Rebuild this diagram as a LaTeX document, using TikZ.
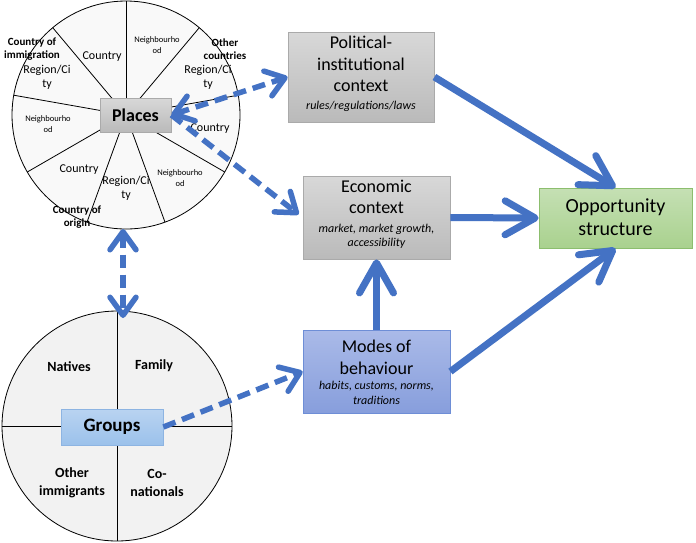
\documentclass[tikz,border=0pt]{standalone}
\usepackage{fontspec}
\setmainfont{Carlito}
\usetikzlibrary{arrows.meta}
\definecolor{ablue}{RGB}{68,114,196}
\definecolor{circtop}{RGB}{249,249,249}
\definecolor{circbot}{RGB}{242,242,242}
\definecolor{graytop}{RGB}{216,216,216}
\definecolor{graybot}{RGB}{186,186,186}
\definecolor{grayline}{RGB}{170,170,170}
\definecolor{greentop}{RGB}{197,224,180}
\definecolor{greenbot}{RGB}{169,209,142}
\definecolor{greenline}{RGB}{140,190,110}
\definecolor{bluetop}{RGB}{170,186,232}
\definecolor{bluebot}{RGB}{135,158,220}
\definecolor{blueline}{RGB}{110,142,214}
\definecolor{ltop}{RGB}{185,211,241}
\definecolor{lbot}{RGB}{155,193,235}
\definecolor{lline}{RGB}{141,180,226}
\begin{document}
\begin{tikzpicture}[x=1pt,y=-1pt,
  spoke/.style={draw=black,line width=0.8pt},
  wheel/.style={circle,draw=black,line width=0.8pt,inner sep=0pt},
  graybox/.style={rectangle,draw=grayline,line width=0.8pt,top color=graytop,bottom color=graybot,inner sep=0pt},
  greenbox/.style={rectangle,draw=greenline,line width=0.8pt,top color=greentop,bottom color=greenbot,inner sep=0pt},
  bluebox/.style={rectangle,draw=blueline,line width=0.8pt,top color=bluetop,bottom color=bluebot,inner sep=0pt},
  lbox/.style={rectangle,draw=lline,line width=0.8pt,top color=ltop,bottom color=lbot,inner sep=0pt},
  title/.style={align=center,inner sep=0pt,font=\fontsize{18}{21.7}\selectfont},
  subt/.style={align=center,inner sep=0pt,font=\fontsize{12}{14.3}\selectfont\itshape},
  sect/.style={align=center,inner sep=0pt,font=\fontsize{12}{14}\selectfont},
  tiny/.style={align=center,inner sep=0pt,font=\fontsize{8.5}{10.7}\selectfont},
  blab/.style={align=center,inner sep=0pt,font=\fontsize{11}{13.3}\selectfont\bfseries},
  glab/.style={align=center,inner sep=0pt,font=\fontsize{14}{17.7}\selectfont\bfseries},
  flow/.style={draw=ablue,line width=7pt,-{Straight Barb[length=30pt,width=34pt,round]}},
  dflow/.style={draw=ablue,line width=5.5pt,dash pattern=on 13pt off 7pt},
  dtip/.style={-{Straight Barb[length=18pt,width=26pt,round]}},
  ddtip/.style={{Straight Barb[length=18pt,width=26pt,round]}-{Straight Barb[length=18pt,width=26pt,round]}}
]
\useasboundingbox[fill=white] (0,0) rectangle (696,542);

% ---- Places wheel ----
\coordinate (pc) at (126,115);
\node[wheel,fill=circtop,minimum size=228pt] (pwheel) at (pc) {};
\foreach \a in {90,130,170,210,250,290,330,370,410}
  \draw[spoke] (pc) -- ++(-\a:114);

\node[sect] (s1) at (102,57) {Country};
\node[tiny] (s2) at (157,45) {Neighbourho\\od};
\node[sect] (s3) at (208,77) {Region/Ci\\ty};
\node[sect] (s4) at (210,129) {Country};
\node[tiny] (s5) at (180,178) {Neighbourho\\od};
\node[sect] (s6) at (126,188) {Region/Ci\\ty};
\node[sect] (s7) at (79,170) {Country};
\node[tiny] (s8) at (48,124) {Neighbourho\\od};
\node[sect] (s9) at (47,77) {Region/Ci\\ty};

\node[blab] (ci) at (32,49) {Country of\\immigration};
\node[blab] (oc) at (225,49) {Other\\countries};
\node[blab] (co) at (77,217) {Country of\\origin};

\node[graybox,minimum width=71pt,minimum height=34pt,font=\fontsize{18}{21}\selectfont\bfseries] (places) at (135.5,115) {Places};

% ---- Groups wheel ----
\node[wheel,fill=circbot,minimum size=230pt] (gwheel) at (117,426) {};
\draw[spoke] (gwheel.north) -- (gwheel.south);
\draw[spoke] (gwheel.west) -- (gwheel.east);
\node[glab] (nat) at (69,367) {Natives};
\node[glab] (fam) at (154,366) {Family};
\node[glab] (oim) at (72,483) {Other\\immigrants};
\node[glab] (con) at (157,483) {Co-\\nationals};
\node[lbox,minimum width=102pt,minimum height=36pt,font=\fontsize{19}{22}\selectfont\bfseries] (groups) at (112,427) {Groups};

% ---- right boxes ----
\node[graybox,minimum width=146pt,minimum height=90pt] (pol) at (361,77) {};
\node[title] (polt) at (361,64) {Political-\\institutional\\context};
\node[subt,anchor=base] (pols) at (361,109) {rules/regulations/laws};

\node[graybox,minimum width=147pt,minimum height=83pt] (eco) at (376.5,217.5) {};
\node[title] (ecot) at (376.5,197) {Economic\\context};
\node[subt] (ecos) at (376.5,236) {market, market growth,\\accessibility};

\node[greenbox,minimum width=153pt,minimum height=60pt] (opp) at (615.5,218) {};
\node[align=center,inner sep=0pt,font=\fontsize{20}{23}\selectfont] (oppt) at (615.5,217) {Opportunity\\structure};

\node[bluebox,minimum width=147pt,minimum height=83pt] (mod) at (376.5,371.5) {};
\node[title] (modt) at (376.5,357) {Modes of\\behaviour};
\node[subt] (mods) at (376.5,393) {habits, customs, norms,\\traditions};

% ---- solid arrows ----
\draw[flow] (pol.east) -- (opp.north);
\draw[flow] (eco.east) -- (opp.west);
\draw[flow] (mod.east) -- (opp.south);
\draw[flow] (mod.north) -- (eco.south);

% ---- dashed arrows ----
\draw[dflow,ddtip] (places.east) -- (pol.west);
\draw[dflow,dtip,shorten >=5pt] (places.east) -- (eco.west);
\coordinate (va) at (123,229);
\coordinate (vb) at (123,318);
\draw[dflow,ddtip] (va) -- (vb);
\draw[dflow,dtip] (groups.east) -- (mod.west);
\end{tikzpicture}
\end{document}
